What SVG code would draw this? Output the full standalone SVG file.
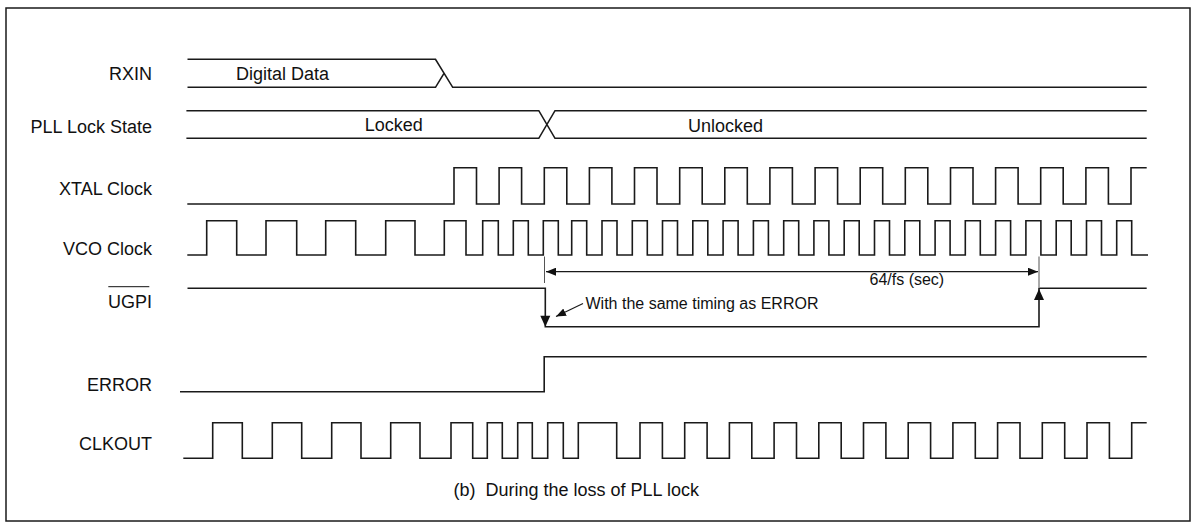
<svg xmlns="http://www.w3.org/2000/svg" width="1197" height="531" viewBox="0 0 1197 531">
<style>
.bg{fill:#ffffff}
.frame{fill:none;stroke:#1a1a1a;stroke-width:1.5}
.wave{fill:none;stroke:#1a1a1a;stroke-width:1.6;stroke-linejoin:miter}
.tick{fill:none;stroke:#555;stroke-width:1}
.dim{fill:none;stroke:#1a1a1a;stroke-width:1.2}
.head{fill:#111;stroke:none}
.lbl{font-family:"Liberation Sans",Arial,sans-serif;font-size:18px;fill:#111;text-anchor:end}
.txt{font-family:"Liberation Sans",Arial,sans-serif;font-size:18px;fill:#111}
.sm{font-family:"Liberation Sans",Arial,sans-serif;font-size:16px;fill:#111}
</style>
<defs>
<marker id="ah" viewBox="0 0 10 8" refX="10" refY="4" markerWidth="10" markerHeight="8" markerUnits="userSpaceOnUse" orient="auto-start-reverse">
<path d="M0,0 L10,4 L0,8 Z" class="head"/>
</marker>
</defs>
<rect class="bg" x="0" y="0" width="1197" height="531"/>
<rect class="frame" x="6" y="8" width="1184" height="513"/>

<g id="rxin">
<text class="lbl" x="152" y="80">RXIN</text>
<path class="wave" d="M187.5 59.3 H435.5 L452.7 87.3 H1146.7 M187.5 87.3 H435.5 L444 73.3"/>
<text class="txt" x="236" y="80">Digital Data</text>
</g>

<g id="pll-lock-state">
<text class="lbl" x="152" y="133">PLL Lock State</text>
<path class="wave" d="M186.4 110.7 H538.8 L555 138.3 H1146.7 M186.4 138.3 H538.8 L555 110.7 H1146.7"/>
<text class="txt" x="364.7" y="131">Locked</text>
<text class="txt" x="688" y="131.5">Unlocked</text>
</g>

<g id="xtal-clock">
<text class="lbl" x="152" y="195">XTAL Clock</text>
<path class="wave" d="M187.3 204 H454 V167.7 H476.5 V204 H499.1 V167.7 H521.6 V204 H544.3 V167.7 H566.8 V204 H589.4 V167.7 H611.9 V204 H634.5 V167.7 H657 V204 H679.7 V167.7 H702.2 V204 H724.8 V167.7 H747.3 V204 H769.9 V167.7 H792.4 V204 H815.1 V167.7 H837.6 V204 H860.2 V167.7 H882.7 V204 H905.3 V167.7 H927.8 V204 H950.5 V167.7 H973 V204 H995.6 V167.7 H1018.1 V204 H1040.7 V167.7 H1063.2 V204 H1085.9 V167.7 H1108.4 V204 H1131 V167.7 H1146.7"/>
</g>

<g id="vco-clock">
<text class="lbl" x="152" y="255">VCO Clock</text>
<path class="wave" d="M187.3 255 H206.7 V220.7 H236.7 V255 H266 V220.7 H296.7 V255 H325.7 V220.7 H355.7 V255 H385.7 V220.7 H415 V255 H444.3 V220.7 H466 V255 H482.7 V220.7 H498.3 V255 H513.3 V220.7 H528.3 V255 H543.3 V220.7 H558.3 V255 H571.7 V220.7 H586.7 V255 H602 V220.7 H617 V255 H632.3 V220.7 H647.3 V255 H662.5 V220.7 H677.5 V255 H692.8 V220.7 H707.8 V255 H723.1 V220.7 H738.1 V255 H753.4 V220.7 H768.4 V255 H783.7 V220.7 H798.7 V255 H813.9 V220.7 H828.9 V255 H844.2 V220.7 H859.2 V255 H874.5 V220.7 H889.5 V255 H904.8 V220.7 H919.8 V255 H935.1 V220.7 H950.1 V255 H965.3 V220.7 H980.3 V255 H995.6 V220.7 H1010.6 V255 H1025.9 V220.7 H1040.9 V255 H1056.2 V220.7 H1071.2 V255 H1086.5 V220.7 H1101.5 V255 H1116.7 V220.7 H1131.7 V255 H1148"/>
</g>

<g id="ugpi">
<text class="lbl" x="152" y="308">UGPI</text>
<line x1="108.3" y1="286.7" x2="149.3" y2="286.7" stroke="#111" stroke-width="1"/>
<path class="wave" d="M187.5 288.3 H545.3 V326.7 H1039 V288.3 H1146.7"/>
<path class="head" d="M545.3 326.7 L540.3 315.7 L550.3 315.7 Z"/>
<path class="head" d="M1039 289 L1034 300 L1044 300 Z"/>
</g>

<g id="error">
<text class="lbl" x="152" y="390.7">ERROR</text>
<path class="wave" d="M180 391.7 H544.2 V356.7 H1146.7"/>
</g>

<g id="clkout">
<text class="lbl" x="152" y="450">CLKOUT</text>
<path class="wave" d="M183.3 458.3 H212.7 V422.7 H242.3 V458.3 H272.3 V422.7 H301.7 V458.3 H331.7 V422.7 H361 V458.3 H390.7 V422.7 H420 V458.3 H451 V422.7 H472.7 V458.3 H487.3 V422.7 H502.3 V458.3 H517.7 V422.7 H532.3 V458.3 H547.7 V422.7 H563.3 V458.3 H578.3 V422.7 H616.7 V458.3 H640 V422.7 H662.4 V458.3 H684.7 V422.7 H707.1 V458.3 H729.4 V422.7 H751.8 V458.3 H774.1 V422.7 H796.5 V458.3 H818.8 V422.7 H841.2 V458.3 H863.5 V422.7 H885.9 V458.3 H908.2 V422.7 H930.6 V458.3 H952.9 V422.7 H975.3 V458.3 H997.6 V422.7 H1020 V458.3 H1042.3 V422.7 H1064.7 V458.3 H1087 V422.7 H1109.4 V458.3 H1131.7 V422.7 H1146.7"/>
</g>

<g id="connectors">
<line class="tick" x1="544.5" y1="256.5" x2="544.5" y2="283"/>
<line class="tick" x1="1039" y1="256.5" x2="1039" y2="287"/>
<line class="dim" x1="546" y1="271.7" x2="1038" y2="271.7" marker-start="url(#ah)" marker-end="url(#ah)"/>
<text class="sm" x="869.5" y="284.5">64/fs (sec)</text>
<line class="dim" x1="583" y1="303.5" x2="556" y2="316.5" marker-end="url(#ah)"/>
<text class="sm" x="585.5" y="309">With the same timing as ERROR</text>
</g>

<g id="caption">
<text class="txt" x="453.5" y="496" font-size="17.5" xml:space="preserve">(b)  During the loss of PLL lock</text>
</g>
</svg>
